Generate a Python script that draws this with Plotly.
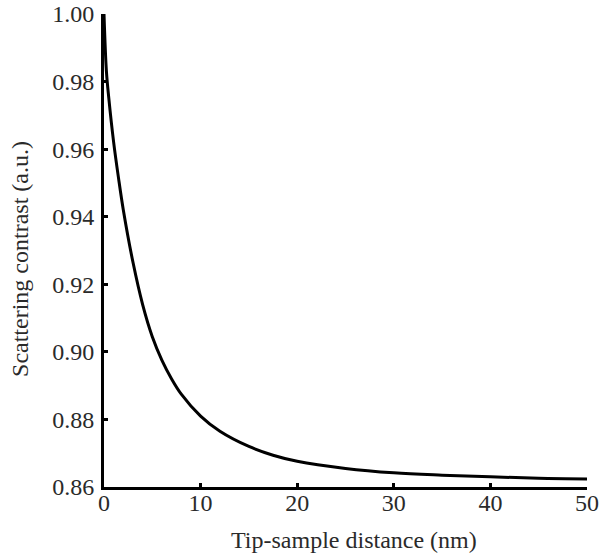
import plotly.graph_objects as go

# Scattering contrast versus tip-sample distance
distance_nm = [0, 0.25, 0.5, 1, 1.5, 2, 3, 4, 5, 6, 7, 8, 10, 12, 15, 17.5,
               20, 25, 30, 35, 40, 45, 50]
contrast = [1.000, 0.983, 0.975, 0.962, 0.9515, 0.942, 0.9265, 0.914, 0.9045,
            0.8975, 0.892, 0.8875, 0.881, 0.8765, 0.872, 0.8694, 0.8676,
            0.8655, 0.8642, 0.8635, 0.8630, 0.8626, 0.8624]

x_ticks = [0, 10, 20, 30, 40, 50]
y_ticks = [0.86, 0.88, 0.90, 0.92, 0.94, 0.96, 0.98, 1.00]

x_title = "Tip-sample distance (nm)"
y_title = "Scattering contrast (a.u.)"

FONT = "Liberation Serif, Times New Roman, serif"
TEXT_COLOR = "#2a2a2a"

fig = go.Figure(
    go.Scatter(
        x=distance_nm,
        y=contrast,
        mode="lines",
        line=dict(color="black", width=3, shape="spline", smoothing=1.0),
        hoverinfo="skip",
        cliponaxis=True,
    )
)

axis_common = dict(
    showline=True,
    linecolor="black",
    linewidth=3,
    ticks="inside",
    ticklen=4,
    tickwidth=3,
    tickcolor="black",
    showgrid=False,
    zeroline=False,
    mirror=False,
    automargin=False,
    tickfont=dict(family=FONT, size=24, color=TEXT_COLOR),
)

fig.update_xaxes(
    range=[0, 50],
    tickvals=x_ticks,
    ticktext=[str(v) for v in x_ticks],
    ticklabelstandoff=-8,
    **axis_common,
)
fig.update_yaxes(
    range=[0.86, 1.00],
    tickvals=y_ticks,
    ticktext=[f"{v:.2f}" for v in y_ticks],
    ticklabelstandoff=2,
    **axis_common,
)

# Axis titles placed as annotations relative to the plotting area
title_font = dict(family=FONT, size=24, color=TEXT_COLOR)
fig.add_annotation(
    text=x_title, xref="paper", yref="paper", x=0.518, y=-0.112,
    xanchor="center", yanchor="middle", showarrow=False, font=title_font,
)
fig.add_annotation(
    text=y_title, xref="paper", yref="paper", x=-0.174, y=0.482,
    xanchor="center", yanchor="middle", textangle=-90, showarrow=False,
    font=title_font,
)

fig.update_layout(
    width=603,
    height=560,
    margin=dict(l=104, r=16, t=14, b=73),
    plot_bgcolor="white",
    paper_bgcolor="white",
    showlegend=False,
)

fig.write_html("out.html")
